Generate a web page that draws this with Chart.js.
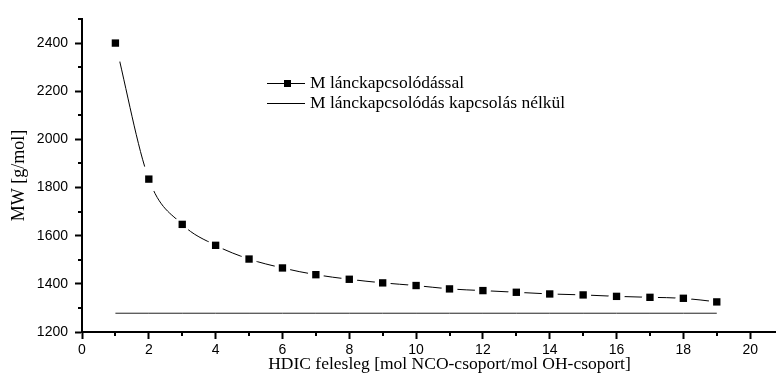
<!DOCTYPE html>
<html><head><meta charset="utf-8">
<script src="https://cdn.jsdelivr.net/npm/chart.js@4.4.1/dist/chart.umd.min.js"></script>
<style>
html,body{margin:0;padding:0;overflow:hidden;background:#fff;width:776px;height:383px;}
#wrap{position:relative;width:776px;height:383px;overflow:hidden;background:#fff;}
canvas{position:absolute;left:0;top:0;}
.leg{position:absolute;font-family:'Liberation Serif','Times New Roman',serif;font-size:17.5px;line-height:20px;color:#000;white-space:nowrap;}
.legline{position:absolute;height:1px;background:#000;}
.legmark{position:absolute;width:7px;height:7px;background:#000;}
</style></head>
<body><div id="wrap"><canvas id="c" width="836" height="383"></canvas></div>
<script>
const xValues = [1,2,3,4,5,6,7,8,9,10,11,12,13,14,15,16,17,18,19];
const mwWithCoupling = [2400,1835,1647,1560,1503,1466,1438,1419,1404,1393,1379,1372,1365,1358,1354,1348,1344,1340,1325];
const mwWithoutCoupling = [1278,1278,1278,1278,1278,1278,1278,1278,1278,1278,1278,1278,1278,1278,1278,1278,1278,1278,1278];
const seriesNames = ['M lánckapcsolódással', 'M lánckapcsolódás kapcsolás nélkül'];
const xTicks = [0,2,4,6,8,10,12,14,16,18,20];
const xMinorTicks = [1,3,5,7,9,11,13,15,17,19,21];
const yTicks = [1200,1400,1600,1800,2000,2200,2400];
const yMinorTicks = [1300,1500,1700,1900,2100,2300,2500];
const xTitle = 'HDIC felesleg [mol NCO-csoport/mol OH-csoport]';
const yTitle = 'MW [g/mol]';

const withPts = xValues.map((x, i) => ({x: x, y: mwWithCoupling[i]}));
const withoutPts = xValues.map((x, i) => ({x: x, y: mwWithoutCoupling[i]}));

// HTML legend
const wrap = document.getElementById('wrap');
function addEl(cls, style, text) {
  const d = document.createElement('div');
  d.className = cls; d.setAttribute('style', style);
  if (text) d.textContent = text;
  wrap.appendChild(d);
}
addEl('legline', 'left:267px;top:83px;width:38px');
addEl('legmark', 'left:284px;top:80px');
addEl('leg', 'left:310px;top:72px', seriesNames[0]);
addEl('legline', 'left:267px;top:103px;width:38px');
addEl('leg', 'left:310px;top:92px', seriesNames[1]);

const sans = "'Liberation Sans', Arial, sans-serif";
const serif = "'Liberation Serif', 'Times New Roman', serif";

const minorTicks = {
  id: 'minorTicks',
  afterDraw(chart) {
    const {ctx, scales: {x, y}} = chart;
    ctx.save();
    ctx.strokeStyle = '#000';
    ctx.lineWidth = 2;
    ctx.beginPath();
    xMinorTicks.forEach(v => { const px = Math.round(x.getPixelForValue(v)); ctx.moveTo(px, y.bottom); ctx.lineTo(px, y.bottom + 4); });
    yMinorTicks.forEach(v => { const py = Math.round(y.getPixelForValue(v)); ctx.moveTo(x.left, py); ctx.lineTo(x.left - 4, py); });
    ctx.stroke();
    ctx.restore();
  }
};

new Chart(document.getElementById('c'), {
  type: 'line',
  data: {
    datasets: [
      {label: seriesNames[0], data: withPts, borderColor: '#000', borderWidth: 1, pointRadius: 0,
       cubicInterpolationMode: 'monotone', fill: false, order: 3},
      {label: 'gap', data: withPts, showLine: false, pointStyle: 'circle',
       pointRadius: c => c.dataIndex === 0 ? 19 : (c.dataIndex === 1 ? 13 : 8),
       pointBackgroundColor: '#fff', pointBorderWidth: 0, order: 2},
      {label: seriesNames[0], data: withPts, showLine: false, pointStyle: 'rect', pointRadius: 5.2,
       pointBackgroundColor: '#000', pointBorderWidth: 0, order: 1},
      {label: seriesNames[1], data: withoutPts, borderColor: '#222', borderWidth: 1, pointRadius: 0, fill: false, order: 4}
    ]
  },
  options: {
    responsive: false,
    animation: false,
    layout: {padding: {top: 16, left: 0, right: 0, bottom: 0}},
    plugins: {legend: {display: false}, tooltip: {enabled: false}},
    scales: {
      x: {
        type: 'linear', position: 'bottom', min: 0, max: 22,
        afterBuildTicks: s => { s.ticks = xTicks.map(v => ({value: v})); },
        afterFit: s => { s.height = 51; },
        grid: {drawOnChartArea: false, drawTicks: true, tickLength: 7, tickWidth: 2, tickColor: '#000'},
        border: {display: true, color: '#000', width: 2},
        ticks: {color: '#000', font: {family: sans, size: 14}, padding: 3, maxRotation: 0, autoSkip: false,
                callback: v => String(v)},
        title: {display: true, text: xTitle, color: '#000', font: {family: serif, size: 17.5}, padding: {top: 0, bottom: 8.5}}
      },
      y: {
        type: 'linear', position: 'left', min: 1200, max: 2500,
        afterBuildTicks: s => { s.ticks = yTicks.map(v => ({value: v})); },
        afterFit: s => { s.width = 82; },
        grid: {drawOnChartArea: false, drawTicks: true, tickLength: 7, tickWidth: 2, tickColor: '#000'},
        border: {display: true, color: '#000', width: 2},
        ticks: {color: '#000', font: {family: sans, size: 14}, padding: 7, callback: v => String(v)},
        title: {display: true, text: yTitle, color: '#000', font: {family: serif, size: 18}, padding: {top: 8, bottom: 0}}
      }
    }
  },
  plugins: [minorTicks]
});
</script>
</body></html>
